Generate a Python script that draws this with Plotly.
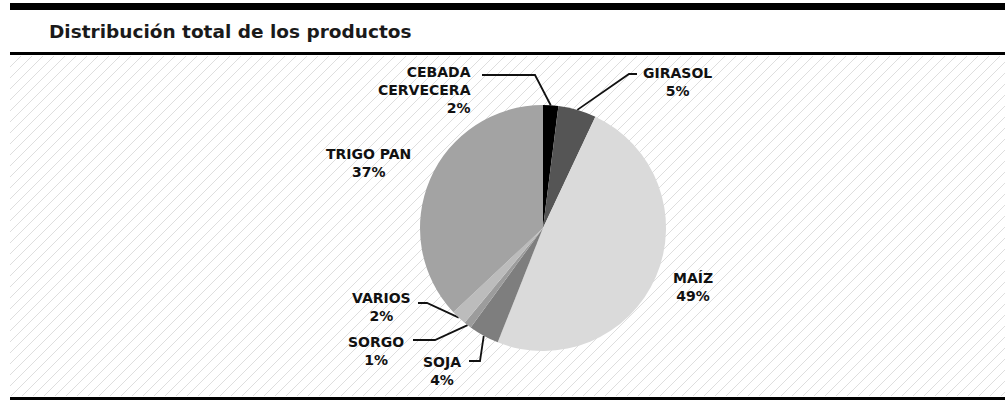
import math
import plotly.graph_objects as go

# data
productos = ["CEBADA<br>CERVECERA", "GIRASOL", "MAÍZ", "SOJA", "SORGO", "VARIOS", "TRIGO PAN"]
porcentajes = [2, 5, 49, 4, 1, 2, 37]
colores = ["#000000", "#555555", "#dadada", "#7e7e7e", "#9c9c9c", "#bcbcbc", "#a3a3a3"]

W, H = 1005, 401
FONT = "DejaVu Sans"

# pie geometry in pixels (center + radius)
cx, cy, R = 543, 228, 123


def paper_x(px):
    return px / W


def paper_y(py):
    return 1 - py / H


def edge_point(i):
    # point on the pie edge at the middle angle of slice i (clockwise from 12 o'clock)
    total = sum(porcentajes)
    start = sum(porcentajes[:i])
    mid = (start + porcentajes[i] / 2) / total * 2 * math.pi
    return cx + R * math.sin(mid), cy - R * math.cos(mid)


fig = go.Figure()

# hatched background (decoration)
hx, hy = [], []
x_left, x_right, y_top, y_bot = 10, W, 56, 396
step = 11
k = x_left - (y_bot - y_top)
while k < x_right:
    xa, ya = k, y_bot
    xb, yb = k + (y_bot - y_top), y_top
    if xa < x_left:
        ya = y_bot - (x_left - k)
        xa = x_left
    if xb > x_right:
        yb = y_bot - (x_right - k)
        xb = x_right
    if xa < xb:
        hx += [xa, xb, None]
        hy += [ya, yb, None]
    k += step

fig.add_trace(go.Scatter(
    x=hx, y=hy, mode="lines",
    line=dict(color="#dedede", width=1),
    hoverinfo="skip", showlegend=False
))

fig.add_trace(go.Pie(
    labels=productos,
    values=porcentajes,
    sort=False,
    direction="clockwise",
    rotation=0,
    marker=dict(colors=colores, line=dict(width=0)),
    textinfo="none",
    hoverinfo="label+percent",
    showlegend=False,
    domain=dict(x=[paper_x(cx - R), paper_x(cx + R)], y=[paper_y(cy + R), paper_y(cy - R)])
))

# label placement: (index, text x, text y, anchor, leader path points before edge)
etiquetas = [
    (0, 473, 90, "right", [(482, 75), (535, 75)]),
    (1, 677, 82, "center", [(637, 74), (629, 74)]),
    (2, 693, 287, "center", None),
    (3, 442, 371, "center", [(469, 361), (480, 361)]),
    (4, 376, 351, "center", [(413, 340), (435, 340)]),
    (5, 381, 307, "center", [(418, 303), (427, 303)]),
    (6, 368, 163, "center", None),
]

for i, tx, ty, anchor, path in etiquetas:
    fig.add_annotation(
        x=tx, y=ty, xref="x", yref="y",
        text=f"{productos[i]}<br>{porcentajes[i]}%",
        showarrow=False, xanchor=anchor, yanchor="middle", align=anchor,
        font=dict(family=FONT, size=14, color="#111111", weight=700),
    )
    if path:
        ex, ey = edge_point(i)
        pts = path + [(ex, ey)]
        fig.add_trace(go.Scatter(
            x=[p[0] for p in pts], y=[p[1] for p in pts], mode="lines",
            line=dict(color="#111111", width=1.8),
            hoverinfo="skip", showlegend=False
        ))

# frame lines and title
fig.add_shape(type="rect", xref="x", yref="y", x0=10, x1=W, y0=3, y1=10,
              fillcolor="#000000", line_width=0)
fig.add_shape(type="rect", xref="x", yref="y", x0=10, x1=W, y0=52, y1=55,
              fillcolor="#000000", line_width=0)
fig.add_shape(type="rect", xref="x", yref="y", x0=10, x1=W, y0=397, y1=400,
              fillcolor="#000000", line_width=0)

fig.add_annotation(
    x=47, y=31, xref="x", yref="y",
    text="Distribución total de los productos",
    showarrow=False, xanchor="left", yanchor="middle",
    font=dict(family=FONT, size=18.5, color="#1a1a1a", weight=700),
)

fig.update_layout(
    width=W, height=H,
    margin=dict(l=0, r=0, t=0, b=0),
    paper_bgcolor="white",
    plot_bgcolor="white",
    xaxis=dict(range=[0, W], visible=False, domain=[0, 1], fixedrange=True),
    yaxis=dict(range=[H, 0], visible=False, domain=[0, 1], fixedrange=True),
)

fig.write_html("out.html", config={"displayModeBar": False},
               post_script="document.body.style.margin='0px';")
